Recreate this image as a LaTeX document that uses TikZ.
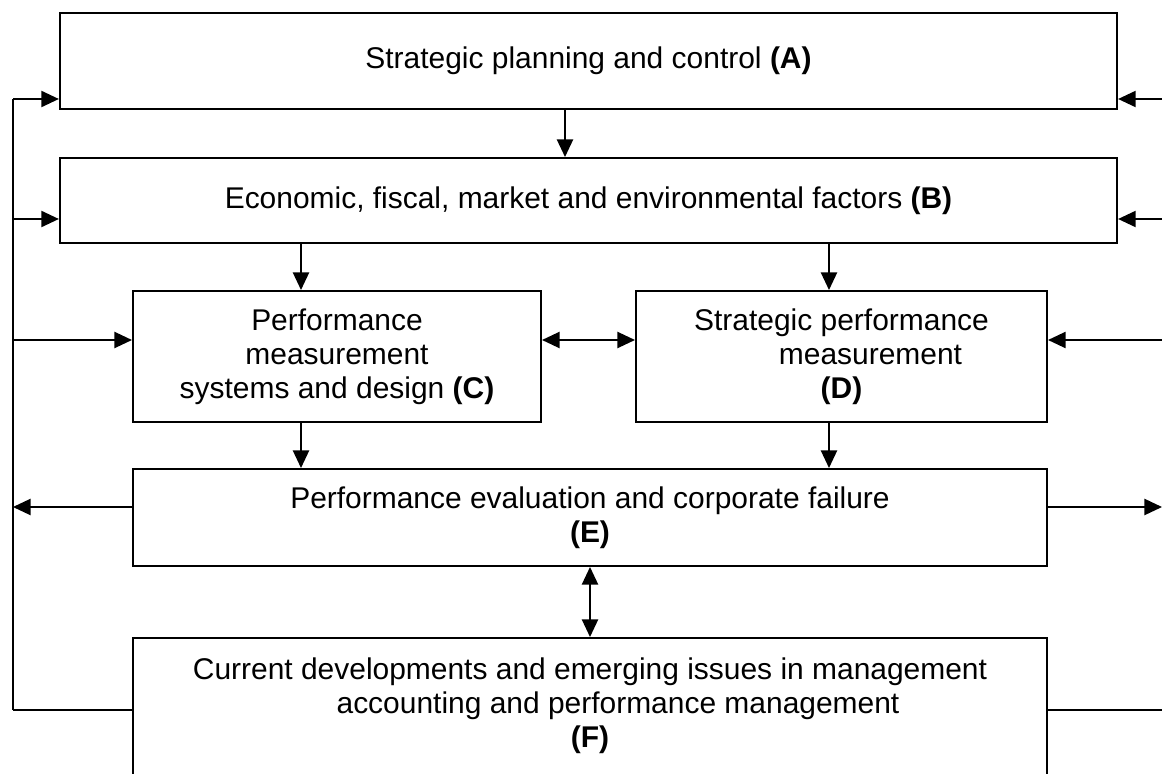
\documentclass[tikz,border=0pt]{standalone}
\usepackage{fontspec}
\setmainfont{Liberation Sans}
\usetikzlibrary{arrows.meta}

\tikzset{
  box/.style={draw, line width=1.4pt, inner sep=0pt, align=center},
  boxtext/.style={inner sep=0pt, align=center},
  link/.style={line width=1.2pt},
  arr/.style={link, -{Triangle[length=12.5pt, width=11.5pt]}},
  arrs/.style={link, {Triangle[length=12.5pt, width=11.5pt]}-{Triangle[length=12.5pt, width=11.5pt]}}
}

\begin{document}
\begin{tikzpicture}[x=0.025cm, y=-0.025cm, font=\fontsize{21.3}{24.2}\selectfont]
  \useasboundingbox (0, 0) rectangle (1162, 774);

  % boxes
  \node[box, minimum width=26.425cm, minimum height=2.4cm] (A) at (588.5, 61)
    {Strategic planning and control \textbf{(A)}};
  \node[box, minimum width=26.425cm, minimum height=2.125cm] (B) at (588.5, 200.5)
    {Economic, fiscal, market and environmental factors \textbf{(B)}};
  \node[box, minimum width=10.2cm, minimum height=3.275cm] (C) at (337, 356.5)
    {Performance\\measurement\\systems and design \textbf{(C)}};
  \node[box, minimum width=10.275cm, minimum height=3.275cm] (D) at (841.5, 356.5)
    {Strategic performance\\\hspace*{1.45cm}measurement\\\textbf{(D)}};
  \node[box, minimum width=22.85cm, minimum height=2.425cm] (E) at (590, 517.5)
    {Performance evaluation and corporate failure\\\textbf{(E)}};
  \node[box, minimum width=22.85cm, minimum height=4.55cm] (F) at (590, 729) {};
  \node[boxtext] (Ftext) at (590, 706)
    {Current developments and emerging issues in management\\\hspace*{1.4cm}accounting and performance management\\\textbf{(F)}};

  % arrows down the middle
  \draw[arr] (A.south -| 565, 0) -- (B.north -| 565, 0);
  \foreach \x in {301, 829} {
    \draw[arr] (B.south -| \x, 0) -- (C.north -| \x, 0);
    \draw[arr] (C.south -| \x, 0) -- (E.north -| \x, 0);
  }
  \draw[arrs] (C.east |- 0, 340) -- (D.west |- 0, 340);
  \draw[arrs] (E.south) -- (F.north);

  % feedback loop on the left
  \coordinate (ltop) at (13, 99);
  \coordinate (lbot) at (13, 710);
  \draw[link] (ltop) -- (lbot);
  \foreach \n / \y in {A/99, B/219, C/340} {
    \draw[arr] (13, \y) -- (\n.west |- 0, \y);
  }
  \draw[arr] (E.west |- 0, 507) -- (13, 507);
  \draw[link] (F.west |- lbot) -- (lbot);

  % feedback loop on the right
  \foreach \n / \y in {A/99, B/219, D/340} {
    \draw[arr] (1162, \y) -- (\n.east |- 0, \y);
  }
  \draw[arr] (E.east |- 0, 507) -- (1162, 507);
  \draw[link] (F.east |- 0, 710) -- (1162, 710);
\end{tikzpicture}
\end{document}
